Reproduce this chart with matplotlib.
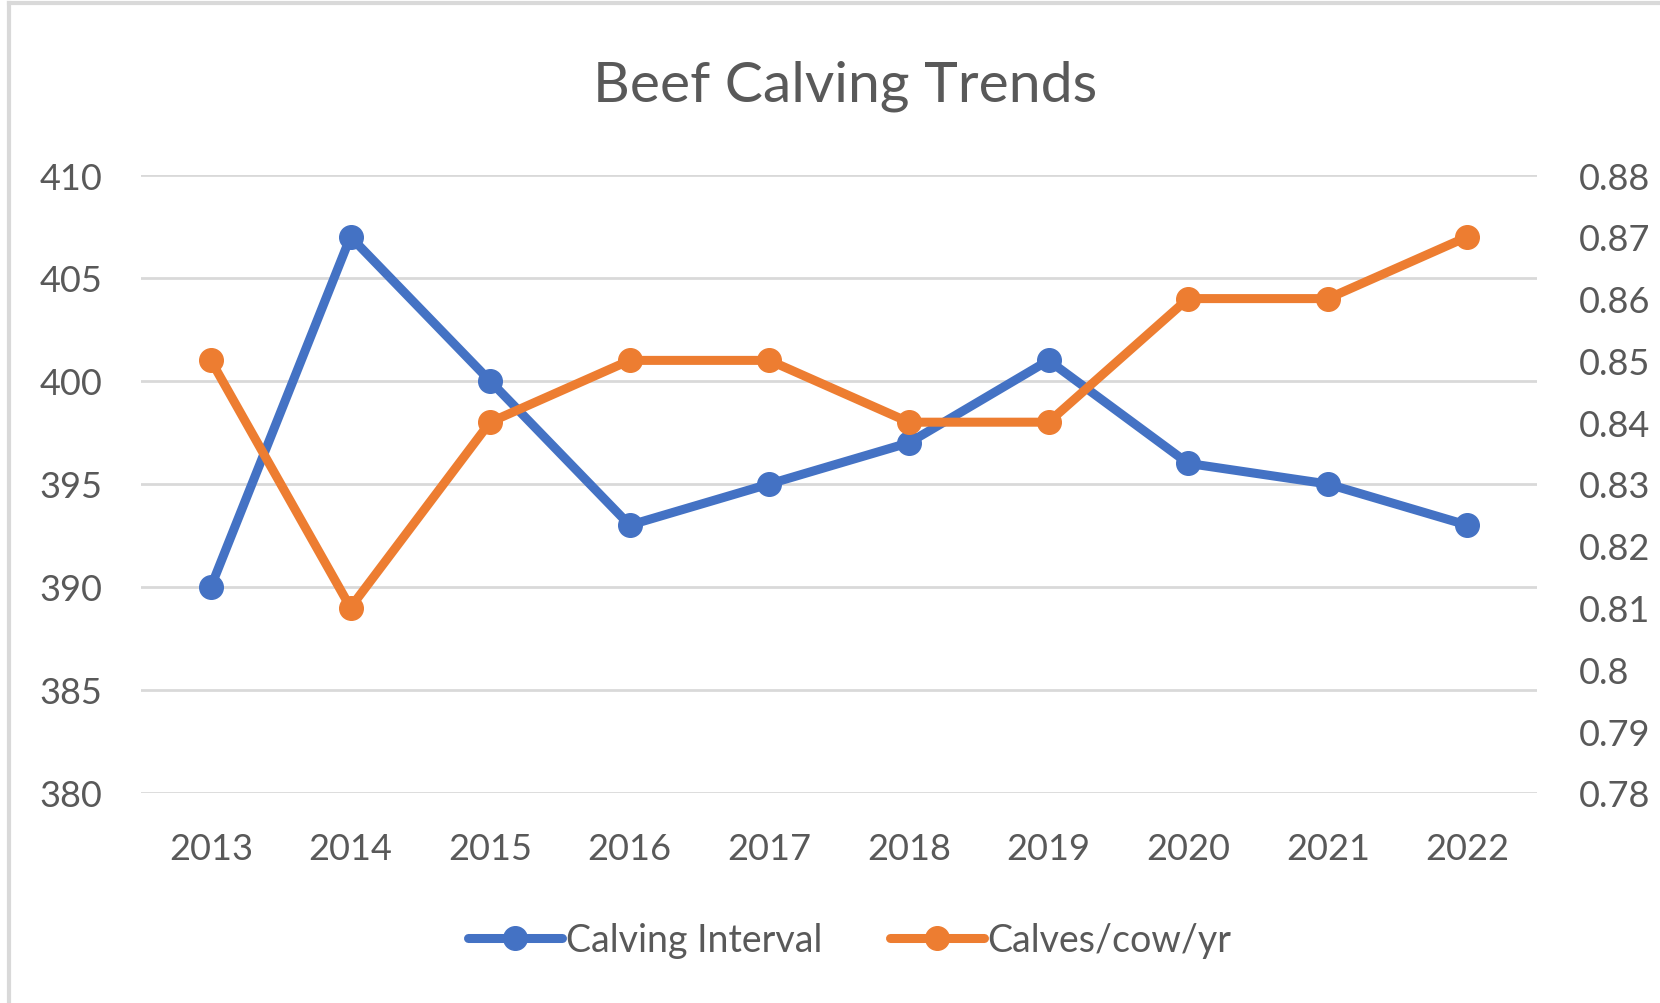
import matplotlib.pyplot as plt

years = [2013, 2014, 2015, 2016, 2017, 2018, 2019, 2020, 2021, 2022]
calving_interval = [390, 407, 400, 393, 395, 397, 401, 396, 395, 393]
calves_per_cow = [0.85, 0.81, 0.84, 0.85, 0.85, 0.84, 0.84, 0.86, 0.86, 0.87]

left_ticks = [380, 385, 390, 395, 400, 405, 410]
right_ticks = [0.78, 0.79, 0.80, 0.81, 0.82, 0.83, 0.84, 0.85, 0.86, 0.87, 0.88]
right_labels = ['0.78', '0.79', '0.8', '0.81', '0.82', '0.83', '0.84', '0.85', '0.86', '0.87', '0.88']

blue = '#4472C4'
orange = '#ED7D31'
grey_txt = '#595959'
grid_col = '#d9d9d9'

plt.rcParams['font.family'] = ['Lato', 'DejaVu Sans']

fig = plt.figure(figsize=(16.6, 10.04), dpi=100)
ax = fig.add_axes([0.085, 0.2092, 0.841, 0.6155])
ax2 = ax.twinx()

# chart frame (only top and left edges visible in the crop)
fig.add_artist(plt.Line2D([0.0055, 0.0055], [0, 0.996], transform=fig.transFigure,
                          color=grid_col, lw=3))
fig.add_artist(plt.Line2D([0.0055, 1.0], [0.996, 0.996], transform=fig.transFigure,
                          color=grid_col, lw=3))

for y in left_ticks:
    ax.axhline(y, color=grid_col, lw=2, zorder=0)

l1, = ax.plot(years, calving_interval, color=blue, lw=6.5, marker='o', ms=17,
              solid_capstyle='round', label='Calving Interval', zorder=3)
l2, = ax2.plot(years, calves_per_cow, color=orange, lw=6.5, marker='o', ms=17,
               solid_capstyle='round', label='Calves/cow/yr', zorder=3)

ax.set_xlim(2012.5, 2022.5)
ax.set_ylim(380, 410)
ax2.set_ylim(0.78, 0.88)
ax.set_xticks(years)
ax.set_xticklabels([str(y) for y in years])
ax.set_yticks(left_ticks)
ax2.set_yticks(right_ticks)
ax2.set_yticklabels(right_labels)

for a in (ax, ax2):
    for s in a.spines.values():
        s.set_visible(False)
    a.tick_params(length=0, labelsize=26, labelcolor=grey_txt)
ax.tick_params(axis='x', pad=28)
ax.tick_params(axis='y', pad=28)
ax2.tick_params(axis='y', pad=30)

fig.text(0.509, 0.914, 'Beef Calving Trends', ha='center', va='center',
         fontsize=41, color=grey_txt)

leg = fig.legend([l1, l2], ['Calving Interval', 'Calves/cow/yr'], loc='center',
                 bbox_to_anchor=(0.512, 0.063), ncol=2, frameon=False,
                 fontsize=27, handlelength=2.5, handletextpad=0.1, columnspacing=1.8)
for t in leg.get_texts():
    t.set_color(grey_txt)

fig.savefig('out.png', dpi=100)
